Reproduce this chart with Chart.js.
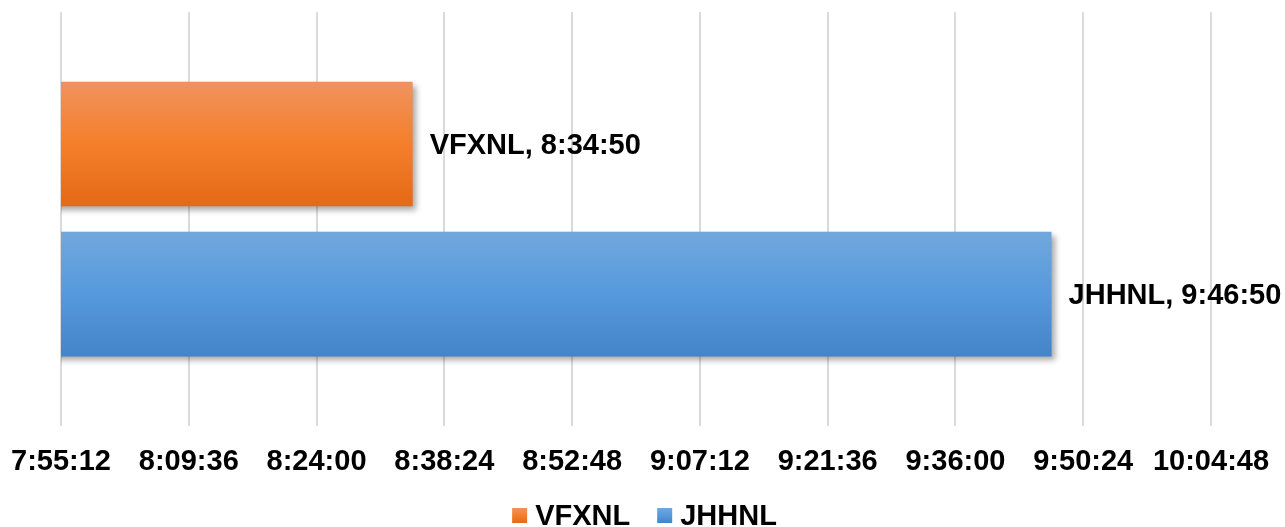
<!DOCTYPE html>
<html>
<head>
<meta charset="utf-8">
<script src="https://cdn.jsdelivr.net/npm/chart.js@4/dist/chart.umd.min.js"></script>
<style>
  html, body { margin: 0; padding: 0; background: #ffffff; }
  #wrap { width: 1285px; height: 527px; position: relative; }
</style>
</head>
<body>
<div id="wrap"><canvas id="c"></canvas></div>
<script>
// ---- data ----
const seriesNames = ["VFXNL", "JHHNL"];
const seriesTimes = ["8:34:50", "9:46:50"];
const tickLabels = ["7:55:12", "8:09:36", "8:24:00", "8:38:24", "8:52:48",
                    "9:07:12", "9:21:36", "9:36:00", "9:50:24", "10:04:48"];
const axisMinTime = "7:55:12";
const axisMaxTime = "10:04:48";
const axisStepTime = "0:14:24";

function toSec(t) {
  const p = t.split(":").map(Number);
  return p[0] * 3600 + p[1] * 60 + p[2];
}

const FONT = "'Liberation Sans', Arial, sans-serif";
const gradStops = [
  ["#F0925E", "#F47F2B", "#E46A15"],
  ["#71A8DD", "#5699DC", "#4484C8"]
];
const solidColors = ["#F07F31", "#5B9BD5"];

const datasets = seriesNames.map((n, i) => ({
  label: n,
  data: [toSec(seriesTimes[i])],
  backgroundColor: solidColors[i],
  borderWidth: 0,
  categoryPercentage: 0.725,
  barPercentage: 0.83
}));

const gradientPlugin = {
  id: "gradientBars",
  afterDatasetsUpdate(chart) {
    const ctx = chart.ctx;
    chart.data.datasets.forEach((ds, i) => {
      const meta = chart.getDatasetMeta(i);
      meta.data.forEach(el => {
        const top = el.y - el.height / 2, bot = el.y + el.height / 2;
        const g = ctx.createLinearGradient(0, top, 0, bot);
        g.addColorStop(0, gradStops[i][0]);
        g.addColorStop(0.5, gradStops[i][1]);
        g.addColorStop(1, gradStops[i][2]);
        el.options = Object.assign({}, el.options, { backgroundColor: g });
      });
    });
  },
  beforeDatasetsDraw(chart) {
    const ctx = chart.ctx;
    ctx.save();
    ctx.shadowColor = "rgba(0,0,0,0.35)";
    ctx.shadowOffsetX = 3;
    ctx.shadowOffsetY = 4;
    ctx.shadowBlur = 6;
  },
  afterDatasetsDraw(chart) {
    const ctx = chart.ctx;
    ctx.restore();
    ctx.save();
    ctx.font = "bold 29px " + FONT;
    ctx.fillStyle = "#000000";
    ctx.textAlign = "left";
    ctx.textBaseline = "alphabetic";
    chart.data.datasets.forEach((ds, i) => {
      const meta = chart.getDatasetMeta(i);
      meta.data.forEach(el => {
        ctx.fillText(seriesNames[i] + ", " + seriesTimes[i], el.x + 17, el.y + 10);
      });
    });
    ctx.restore();
  },
  afterDraw(chart) {
    // custom legend
    const ctx = chart.ctx;
    ctx.save();
    ctx.font = "bold 29px " + FONT;
    const box = 15, gapBoxText = 8, gapItems = 27;
    const widths = seriesNames.map(n => ctx.measureText(n).width);
    let total = 0;
    widths.forEach((w, i) => { total += box + gapBoxText + w + (i < widths.length - 1 ? gapItems : 0); });
    let x = chart.width / 2 - total / 2 + 2;
    const boxTop = 508, baseline = 525;
    seriesNames.forEach((n, i) => {
      const g = ctx.createLinearGradient(0, boxTop, 0, boxTop + box);
      g.addColorStop(0, gradStops[i][0]);
      g.addColorStop(0.5, gradStops[i][1]);
      g.addColorStop(1, gradStops[i][2]);
      ctx.fillStyle = g;
      ctx.fillRect(x, boxTop, box, box);
      x += box + gapBoxText;
      ctx.fillStyle = "#000000";
      ctx.textAlign = "left";
      ctx.textBaseline = "alphabetic";
      ctx.fillText(n, x, baseline);
      x += widths[i] + gapItems;
    });
    ctx.restore();
  }
};

new Chart(document.getElementById("c"), {
  type: "bar",
  data: { labels: [""], datasets: datasets },
  options: {
    indexAxis: "y",
    responsive: true,
    maintainAspectRatio: false,
    animation: false,
    layout: { padding: { left: 61, right: 74, top: 12, bottom: 30 } },
    scales: {
      x: {
        type: "linear",
        min: toSec(axisMinTime),
        max: toSec(axisMaxTime),
        border: { display: false },
        grid: { color: "#dadada", lineWidth: 2, drawTicks: false },
        ticks: {
          stepSize: toSec(axisStepTime),
          padding: 18,
          color: "#000000",
          font: { family: FONT, size: 29, weight: "bold" },
          callback: (v, idx) => tickLabels[idx],
          maxRotation: 0,
          autoSkip: false
        },
        afterFit(scale) { scale.paddingLeft = 0; scale.paddingRight = 0; }
      },
      y: { display: false }
    },
    plugins: {
      legend: { display: false },
      tooltip: { enabled: false }
    }
  },
  plugins: [gradientPlugin]
});
</script>
</body>
</html>
